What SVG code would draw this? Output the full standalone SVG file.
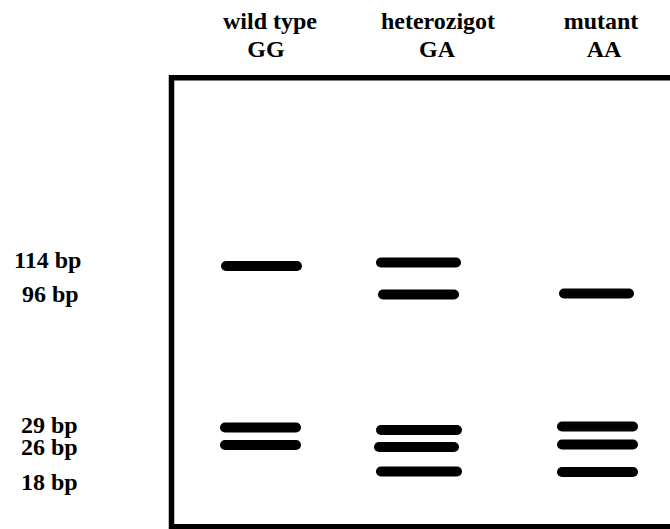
<svg xmlns="http://www.w3.org/2000/svg" width="670" height="529" viewBox="0 0 670 529">
  <style>
    text { font-family: "Liberation Serif", "Noto Serif", "DejaVu Serif", serif; font-weight: 700; font-size: 24px; fill: #000; }
    .head { text-anchor: middle; }
    .band { stroke: #000; stroke-width: 10; stroke-linecap: round; fill: none; }
  </style>
  <rect width="670" height="529" fill="#fff"/>

  <!-- column headings -->
  <g id="col-wildtype">
    <text class="head" x="270" y="29" font-family="Liberation Serif">wild type</text>
    <text class="head" x="266" y="57" font-family="Liberation Serif">GG</text>
  </g>
  <g id="col-heterozygote">
    <text class="head" x="438" y="29" font-family="Liberation Serif">heterozigot</text>
    <text class="head" x="437" y="57" font-family="Liberation Serif">GA</text>
  </g>
  <g id="col-mutant">
    <text class="head" x="601" y="29" font-family="Liberation Serif">mutant</text>
    <text class="head" x="604" y="57" font-family="Liberation Serif">AA</text>
  </g>

  <!-- fragment size labels -->
  <g id="sizes">
    <text x="14" y="268" font-family="Liberation Serif">114 bp</text>
    <text x="22" y="302" font-family="Liberation Serif">96 bp</text>
    <text x="21" y="433" font-family="Liberation Serif">29 bp</text>
    <text x="21" y="455" font-family="Liberation Serif">26 bp</text>
    <text x="21" y="490" font-family="Liberation Serif">18 bp</text>
  </g>

  <!-- gel frame -->
  <g id="gel">
    <rect x="171.5" y="77.75" width="520" height="449" fill="none" stroke="#000" stroke-width="5.5"/>
  </g>

  <!-- bands -->
  <g id="bands">
    <line class="band" x1="226" y1="266" x2="297" y2="266"/>
    <line class="band" x1="225" y1="427.5" x2="296" y2="427.5"/>
    <line class="band" x1="225" y1="445" x2="296" y2="445"/>

    <line class="band" x1="381" y1="262.5" x2="456" y2="262.5"/>
    <line class="band" x1="383" y1="294.5" x2="454" y2="294.5"/>
    <line class="band" x1="381" y1="430" x2="457" y2="430"/>
    <line class="band" x1="379" y1="447" x2="454" y2="447"/>
    <line class="band" x1="381" y1="471.5" x2="457" y2="471.5"/>

    <line class="band" x1="564" y1="293.5" x2="629" y2="293.5"/>
    <line class="band" x1="562" y1="426.5" x2="633" y2="426.5"/>
    <line class="band" x1="562" y1="444.5" x2="633" y2="444.5"/>
    <line class="band" x1="562" y1="472" x2="633" y2="472"/>
  </g>
</svg>
